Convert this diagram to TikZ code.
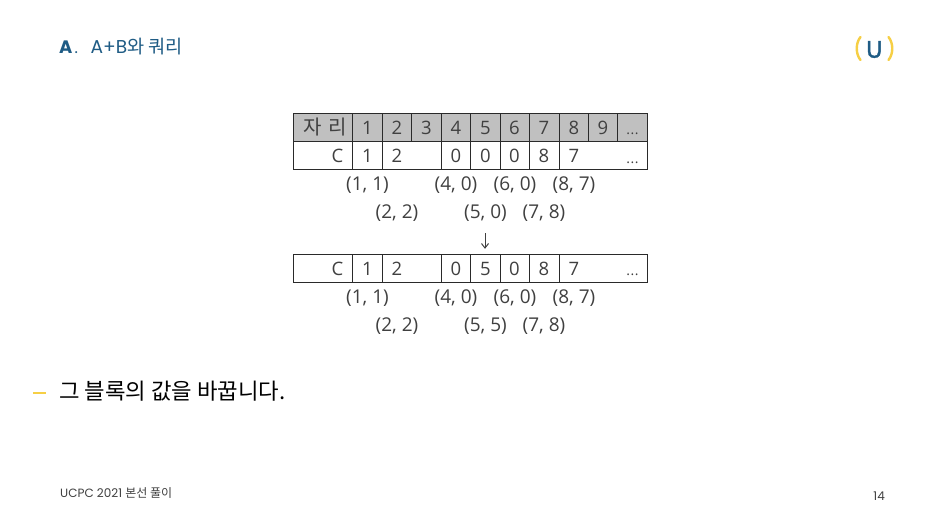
\documentclass[tikz,border=0pt]{standalone}
\usepackage{fontspec}
\setmainfont{Noto Sans CJK KR}
\newfontfamily\cjkf{Noto Sans CJK KR}
\newfontfamily\tblf{Open Sans}
\newfontfamily\geof{Poppins}
\newfontfamily\geou{Poppins}[RawFeature={embolden=1.2}]
\definecolor{navy}{HTML}{1F5C85}
\definecolor{uyellow}{HTML}{F6CF45}
\definecolor{hdrgray}{HTML}{C0C0C0}
\definecolor{tblline}{HTML}{2A2A2A}
\definecolor{tbltxt}{HTML}{404040}
\tikzset{
  x=1pt,y=-1pt,
  cellbox/.style={draw=tblline,line width=1.2pt,inner sep=0pt,outer sep=0pt},
  hdrcell/.style={cellbox,fill=hdrgray},
  wcell/.style={cellbox,fill=white},
  celltxt/.style={font=\tblf\fontsize{18.5}{20}\selectfont,text=tbltxt,inner sep=0pt,anchor=base},
  pairtxt/.style={font=\tblf\fontsize{19}{20}\selectfont,text=tbltxt,inner sep=0pt,anchor=base},
  dotstxt/.style={font=\tblf\fontsize{14}{14}\selectfont,text=tbltxt,inner sep=0pt,anchor=base},
}
\begin{document}
\begin{tikzpicture}
\useasboundingbox (0,0) rectangle (945,532);
\fill[white] (0,0) rectangle (945,532);
% title
\node[font=\geof\fontsize{18}{20}\selectfont\bfseries,text=navy,inner sep=0pt,anchor=base west] (ttlA) at (59,53.5) {A};
\node[font=\geof\fontsize{16}{20}\selectfont,text=navy,inner sep=0pt,anchor=base west] (ttldot) at (74.5,53.5) {.};
\node[font=\geof\fontsize{18.6}{20}\selectfont,text=navy,inner sep=0pt,anchor=base west] (ttl) at (90.5,53.5) {A+B\cjkf 와 쿼리};
% logo
\node[font=\geou\fontsize{24}{26}\selectfont,text=navy,inner sep=0pt] (logoU) at (874.3,49.5) {U};
\draw[uyellow,line width=2.4pt,line cap=round] (860.5,37) .. controls (855.5,43) and (855.5,54) .. (860.5,60);
\draw[uyellow,line width=2.4pt,line cap=round] (888.5,37) .. controls (893.5,43) and (893.5,54) .. (888.5,60);
% table 1, header
\draw[hdrcell] (293.5,113.5) rectangle (352.5,141.5);
\foreach \a/\b in {352.5/382.5,382.5/411.5,411.5/441.5,441.5/470.5,470.5/500.5,500.5/529.5,529.5/559.5,559.5/588.5,588.5/617.5,617.5/647.5}
  \draw[hdrcell] (\a,113.5) rectangle (\b,141.5);
\node[font=\cjkf\fontsize{20}{22}\selectfont,text=tbltxt,inner sep=0pt] (h0) at (325,127) {자\hspace{7pt}리};
\foreach \n/\x/\t in {h1/367.5/1,h2/397/2,h3/426.5/3,h4/456/4,h5/485.5/5,h6/514.5/6,h7/544/7,h8/574/8,h9/603/9}
  \node[celltxt] (\n) at (\x,134.5) {\t};
\node[dotstxt] (h10) at (632.5,135) {.\kern0.5pt.\kern0.5pt.};
% table 1, row
\foreach \a/\b in {293.5/352.5,352.5/382.5,382.5/441.5,441.5/470.5,470.5/500.5,500.5/529.5,529.5/559.5,559.5/647.5}
  \draw[wcell] (\a,141.5) rectangle (\b,169.5);
\node[celltxt] (ac) at (337.5,162.5) {C};
\foreach \n/\x/\t in {a1/367.5/1,a2/397/2,a4/456/0,a5/485.5/0,a6/514.5/0,a7/544/8,a8/574/7}
  \node[celltxt] (\n) at (\x,162.5) {\t};
\node[dotstxt] (a10) at (632.5,163.5) {.\kern0.5pt.\kern0.5pt.};
% pairs 1
\foreach \n/\x/\y/\t in {p1/367.5/190.5/{(1, 1)},p2/456/190.5/{(4, 0)},p3/515/190.5/{(6, 0)},p4/574/190.5/{(8, 7)},p5/397/218.5/{(2, 2)},p6/485.5/218.5/{(5, 0)},p7/544/218.5/{(7, 8)}}
  \node[pairtxt] (\n) at (\x,\y) {\t};
% arrow
\coordinate (arrS) at (485,233);
\coordinate (arrE) at (485,248);
\draw[tbltxt,line width=1pt] (arrS) -- (arrE);
\draw[tbltxt,line width=1pt] (481.5,243.5) -- (arrE) -- (488.5,243.5);
% table 2
\foreach \a/\b in {293.5/352.5,352.5/382.5,382.5/441.5,441.5/470.5,470.5/500.5,500.5/529.5,529.5/559.5,559.5/647.5}
  \draw[wcell] (\a,254.5) rectangle (\b,282.5);
\node[celltxt] (bc) at (337.5,275) {C};
\foreach \n/\x/\t in {b1/367.5/1,b2/397/2,b4/456/0,b5/485.5/5,b6/514.5/0,b7/544/8,b8/574/7}
  \node[celltxt] (\n) at (\x,275) {\t};
\node[dotstxt] (b10) at (632.5,275.5) {.\kern0.5pt.\kern0.5pt.};
% pairs 2
\foreach \n/\x/\y/\t in {q1/367.5/303.5/{(1, 1)},q2/456/303.5/{(4, 0)},q3/515/303.5/{(6, 0)},q4/574/303.5/{(8, 7)},q5/397/331.5/{(2, 2)},q6/485.5/331.5/{(5, 5)},q7/544/331.5/{(7, 8)}}
  \node[pairtxt] (\n) at (\x,\y) {\t};
% bullet
\draw[uyellow,line width=2pt] (33,393) -- (46,393);
\node[font=\cjkf\fontsize{22.3}{24}\selectfont,text=black,inner sep=0pt,anchor=west] (bul) at (59,391.5) {그 블록의 값을 바꿉니다.};
% footer
\node[font=\geof\fontsize{12}{14}\selectfont,text=black!75,inner sep=0pt,anchor=west] (ft) at (60,493.5) {UCPC 2021 \cjkf 본선 풀이};
\node[font=\geof\fontsize{12}{14}\selectfont,text=black!75,inner sep=0pt,anchor=east] (pg) at (885,496) {14};
\end{tikzpicture}
\end{document}
